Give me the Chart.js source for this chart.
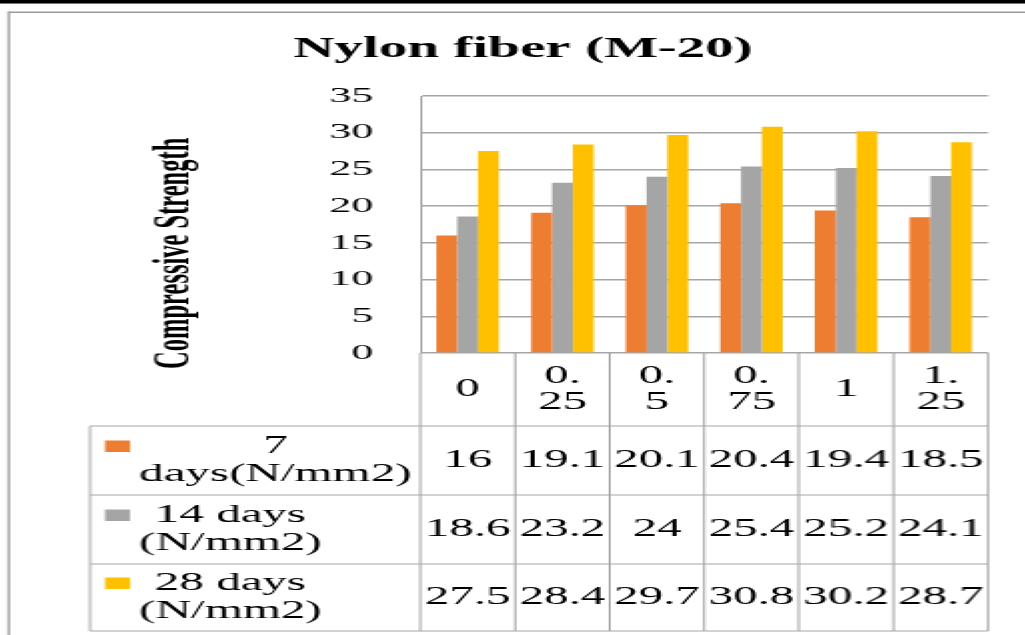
<!DOCTYPE html>
<html>
<head>
<meta charset="utf-8">
<script src="https://cdn.jsdelivr.net/npm/chart.js@4.4.1/dist/chart.umd.min.js"></script>
<style>
  html, body { margin: 0; padding: 0; background: #fff; overflow: hidden; }
  /* the source picture is an Excel chart stretched ~2x sideways, so draw at half width and stretch */
  #wrap { position: absolute; left: 0; top: 0; width: 512px; height: 635px; background: #fff;
          transform: scaleX(2.002); transform-origin: 0 0; }
</style>
</head>
<body>
<div id="wrap"><canvas id="chart"></canvas></div>
<script>
const categories = ['0', '0.25', '0.5', '0.75', '1', '1.25']
const tickLabels = [['0'], ['0.', '25'], ['0.', '5'], ['0.', '75'], ['1'], ['1.', '25']]
const seriesNames = ['7 days(N/mm2)', '14 days (N/mm2)', '28 days (N/mm2)']
const seriesLines = [['7', 'days(N/mm2)'], ['14 days', '(N/mm2)'], ['28 days', '(N/mm2)']]
const days7 = [16, 19.1, 20.1, 20.4, 19.4, 18.5]
const days14 = [18.6, 23.2, 24, 25.4, 25.2, 24.1]
const days28 = [27.5, 28.4, 29.7, 30.8, 30.2, 28.7]
const colors = ['#ED7D31', '#A5A5A5', '#FFC000']

const serif = "'Liberation Serif', 'Times New Roman', serif"
const lineColor = '#a6a6a6'

//Plug in for the frame, titles and the data table under the plot
const excelExtras = {
  id: 'excelExtras',
  beforeDraw(chart) {
    const ctx = chart.ctx
    ctx.save()
    ctx.fillStyle = '#fff'
    ctx.fillRect(0, 0, chart.width, chart.height)
    // dark band at top + thin frame
    ctx.fillStyle = '#000'
    ctx.fillRect(0, 0, chart.width, 3)
    ctx.fillStyle = '#777'
    ctx.fillRect(0, 3, chart.width, 1)
    ctx.fillStyle = '#9a9a9a'
    ctx.fillRect(4, 11.5, chart.width, 1.5)
    ctx.fillRect(3.8, 11.5, 1.2, chart.height)
    ctx.restore()
  },
  afterDraw(chart) {
    const { ctx, chartArea } = chart
    const xs = chart.scales.x
    const colW = chartArea.width / categories.length
    const tableLeft = 45
    const rows = [chartArea.bottom, 426, 495, 564, 631]
    ctx.save()

    // chart title
    ctx.fillStyle = '#000'
    ctx.font = 'bold 28.5px ' + serif
    ctx.textAlign = 'center'
    ctx.textBaseline = 'alphabetic'
    ctx.fillText('Nylon fiber (M-20)', 261.25, 57.3)

    // y axis title
    ctx.save()
    ctx.translate(93.7, 253.3)
    ctx.rotate(-Math.PI / 2)
    ctx.font = 'bold 24.5px ' + serif
    ctx.fillText('Compressive Strength', 0, 0)
    ctx.restore()

    // table grid
    ctx.strokeStyle = lineColor
    ctx.lineWidth = 1
    ctx.beginPath()
    for (let r = 1; r < rows.length; r++) {
      ctx.moveTo(tableLeft, rows[r]); ctx.lineTo(chartArea.right, rows[r])
    }
    ctx.moveTo(tableLeft, rows[1]); ctx.lineTo(tableLeft, rows[4])
    for (let i = 0; i <= categories.length; i++) {
      const px = chartArea.left + i * colW
      ctx.moveTo(px, chartArea.bottom); ctx.lineTo(px, rows[4])
    }
    ctx.stroke()

    // category header row
    ctx.fillStyle = '#000'
    ctx.font = '24.5px ' + serif
    ctx.textBaseline = 'middle'
    ctx.textAlign = 'center'
    const headMid = (rows[0] + rows[1]) / 2
    tickLabels.forEach((lines, i) => {
      const cx = xs.getPixelForValue(i)
      lines.forEach((t, k) => {
        ctx.fillText(t, cx, headMid + (k - (lines.length - 1) / 2) * 26.7)
      })
    })

    // series rows
    const series = [days7, days14, days28]
    series.forEach((vals, s) => {
      const mid = (rows[s + 1] + rows[s + 2]) / 2
      const lines = seriesLines[s]
      const widest = Math.max(...lines.map(t => ctx.measureText(t).width))
      const blockMid = 69.5 + widest / 2
      ctx.fillStyle = colors[s]
      ctx.fillRect(52.5, mid - 14 - 6, 12.5, 11.5)
      ctx.fillStyle = '#000'
      ctx.textAlign = 'center'
      lines.forEach((t, k) => {
        ctx.fillText(t, blockMid, mid + (k - 0.5) * 28.5)
      })
      vals.forEach((v, i) => {
        ctx.fillText(String(v), xs.getPixelForValue(i), mid)
      })
    })
    ctx.restore()
  },
}

new Chart(document.getElementById('chart'), {
  type: 'bar',
  data: {
    labels: categories,
    datasets: [
      { label: seriesNames[0], data: days7, backgroundColor: colors[0] },
      { label: seriesNames[1], data: days14, backgroundColor: colors[1] },
      { label: seriesNames[2], data: days28, backgroundColor: colors[2] },
    ],
  },
  options: {
    responsive: true,
    maintainAspectRatio: false,
    animation: false,
    layout: { padding: { left: 0, top: 96, right: 18.5, bottom: 282 } },
    datasets: { bar: { categoryPercentage: 0.66, barPercentage: 1 } },
    plugins: {
      legend: { display: false },
      title: { display: false },
      tooltip: { enabled: false },
    },
    scales: {
      x: { display: false },
      y: {
        min: 0,
        max: 35,
        ticks: { stepSize: 5, color: '#000', padding: 23.5, font: { family: serif, size: 22 } },
        grid: { color: lineColor, lineWidth: 1.5, drawTicks: false },
        border: { color: lineColor, width: 1 },
        afterFit(scale) { scale.width = 210 },
      },
    },
  },
  plugins: [excelExtras],
})
</script>
</body>
</html>
